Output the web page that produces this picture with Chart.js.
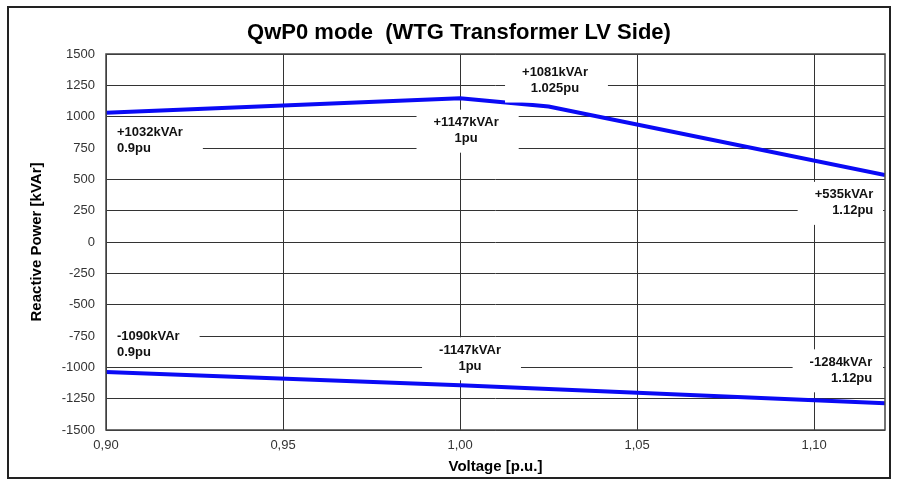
<!DOCTYPE html>
<html>
<head>
<meta charset="utf-8">
<script src="https://cdn.jsdelivr.net/npm/chart.js@4/dist/chart.umd.min.js"></script>
<style>
html,body{margin:0;padding:0;background:#fff}
#wrap{width:900px;height:480px;position:relative}
</style>
</head>
<body>
<div id="wrap"><canvas id="qCh" width="900" height="480"></canvas></div>
<script>
// QwP0 mode chart — reactive power vs voltage at WTG transformer LV side

const TITLE="QwP0 mode  (WTG Transformer LV Side)";

// upper (capacitive) curve
const upV=[0.90,1.00,1.025,1.12];
const upQ=[1032,1147,1081,535];
// lower (inductive) curve
const loV=[0.90,1.00,1.12];
const loQ=[-1038,-1142,-1286];

// data labels: text lines, anchor voltage, anchor power (first line), alignment
const lblTxt=[["+1032kVAr","0.9pu"],["+1147kVAr","1pu"],["+1081kVAr","1.025pu"],["+535kVAr","1.12pu"],
  ["-1090kVAr","0.9pu"],["-1147kVAr","1pu"],["-1284kVAr","1.12pu"]];
const lblV=[0.9031,1.0017,1.0268,1.1167,0.9031,1.0028,1.1164];
const lblQ=[872,952,1352,376,-752,-864,-960];
const lblAl=["left","center","center","right","left","center","right"];

const yTicks=[-1500,-1250,-1000,-750,-500,-250,0,250,500,750,1000,1250,1500];

const FF="'Liberation Sans',Arial,sans-serif";
const pts=(xs,ys)=>xs.map((v,i)=>({x:v,y:ys[i]}));

// white label boxes over the grid, drawn after the curves; title + frames last
const lblPlugin={id:"lbl",afterDatasetsDraw(c){
  const {ctx,chartArea:a,scales:{x,y}}=c;
  ctx.save();
  ctx.font="bold 13px "+FF;
  ctx.textBaseline="middle";
  lblTxt.forEach((ls,i)=>{
    const px=x.getPixelForValue(lblV[i]),py=y.getPixelForValue(lblQ[i]);
    const w=Math.max(...ls.map(t=>ctx.measureText(t).width));
    const x0=lblAl[i]==="left"?px:lblAl[i]==="center"?px-w/2:px-w;
    let bl=Math.max(a.left+1,x0-17),br=Math.min(a.right-2,x0+w+20);
    let bt=Math.max(a.top+1,py-13),bb=py+16*(ls.length-1)+14;
    ctx.fillStyle="#fff";ctx.fillRect(bl,bt,br-bl,bb-bt);
    ctx.fillStyle="#111";ctx.textAlign=lblAl[i];
    ls.forEach((t,k)=>ctx.fillText(t,px,py+k*16));
  });
  ctx.restore();
},afterDraw(c){
  const {ctx,chartArea:a}=c;
  ctx.save();
  ctx.strokeStyle="#444";ctx.lineWidth=1.5;
  ctx.strokeRect(a.left,a.top,a.right-a.left,a.bottom-a.top);
  ctx.strokeStyle="#222";ctx.lineWidth=2;
  ctx.strokeRect(8,7,882,471);
  ctx.fillStyle="#000";ctx.font="bold 22px "+FF;
  ctx.textAlign="center";ctx.textBaseline="middle";
  ctx.fillText(TITLE,459,33);
  ctx.restore();
}};

const lineDs=(d)=>({data:d,borderColor:"#0a0af5",borderWidth:4,pointRadius:0,fill:false,tension:0});

new Chart(document.getElementById("qCh"),{
  type:"line",
  data:{datasets:[lineDs(pts(upV,upQ)),lineDs(pts(loV,loQ))]},
  options:{
    responsive:false,animation:false,
    layout:{padding:{top:54,right:15,bottom:0,left:0}},
    plugins:{legend:{display:false},tooltip:{enabled:false},title:{display:false}},
    scales:{
      x:{type:"linear",min:0.9,max:1.12,
        ticks:{stepSize:0.05,includeBounds:false,color:"#333",padding:8,font:{family:FF,size:13},
          callback:v=>v.toFixed(2).replace(".",",")},
        grid:{color:"#333",lineWidth:1,drawTicks:false},
        border:{display:false},
        title:{display:true,text:"Voltage [p.u.]",color:"#000",font:{family:FF,size:15,weight:"bold"},padding:{top:0,bottom:4}},
        afterFit:s=>{s.height=50}},
      y:{min:-1500,max:1500,
        afterBuildTicks:s=>{s.ticks=yTicks.map(v=>({value:v}))},
        ticks:{color:"#333",padding:11,font:{family:FF,size:13},callback:v=>String(v)},
        grid:{color:"#333",lineWidth:1,drawTicks:false},
        border:{display:false},
        title:{display:true,text:"Reactive Power [kVAr]",color:"#000",font:{family:FF,size:15,weight:"bold"},padding:{top:28,bottom:0}},
        afterFit:s=>{s.width=106}}
    }
  },
  plugins:[lblPlugin]
});
</script>
</body>
</html>
